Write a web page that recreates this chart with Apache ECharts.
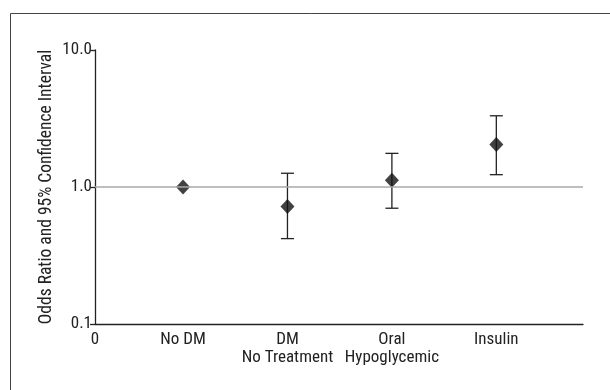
<!DOCTYPE html>
<html>
<head>
<meta charset="utf-8">
<script src="https://cdn.jsdelivr.net/npm/echarts@6/dist/echarts.min.js"></script>
<style>
html,body{margin:0;padding:0;background:#fff;}
#chart{width:610px;height:390px;}
</style>
</head>
<body>
<div id="chart"></div>
<script>
var categories = ["No DM", "DM\nNo Treatment", "Oral\nHypoglycemic", "Insulin"];
var oddsRatio = [1.0, 0.72, 1.12, 2.04];
var ciLower = [null, 0.42, 0.70, 1.23];
var ciUpper = [null, 1.26, 1.76, 3.31];
var yTicks = [0.1, 1.0, 10.0];
var xOriginLabel = "0";

var FONT = '"Liberation Sans Narrow", "Arial Narrow", "Roboto Condensed", sans-serif';
var X_MIN = 0.157, X_MAX = 4.83;

var points = oddsRatio.map(function (v, i) { return [i + 1, v]; });
var bars = [];
for (var i = 0; i < categories.length; i++) {
  if (ciLower[i] != null) bars.push([i + 1, ciLower[i], ciUpper[i]]);
}

var chart = echarts.init(document.getElementById('chart'), null, {renderer: 'canvas'});
chart.setOption({
  backgroundColor: '#fff',
  animation: false,
  graphic: [{
    type: 'rect', left: 8, top: 11, silent: true,
    shape: {width: 700, height: 500},
    style: {fill: 'none', stroke: '#444', lineWidth: 1}
  }],
  grid: {left: 95, right: 27, top: 50, bottom: 66},
  xAxis: {
    type: 'value', min: X_MIN, max: X_MAX,
    axisLine: {show: true, onZero: false, lineStyle: {color: '#222', width: 1.3}},
    axisTick: {show: false},
    splitLine: {show: false},
    axisLabel: {
      customValues: [X_MIN, 1, 2, 3, 4],
      color: '#222', fontFamily: FONT, fontSize: 17, lineHeight: 18, margin: 7,
      formatter: function (v) {
        if (Math.abs(v - X_MIN) < 1e-6) return xOriginLabel;
        var idx = Math.round(v) - 1;
        return categories[idx] || '';
      }
    }
  },
  yAxis: {
    type: 'log', logBase: 10, min: 0.1, max: 10,
    name: 'Odds Ratio and 95% Confidence Interval',
    nameLocation: 'middle', nameGap: 39, nameMoveOverlap: false,
    nameTextStyle: {color: '#222', fontFamily: FONT, fontSize: 17.5},
    axisLine: {show: true, lineStyle: {color: '#222', width: 1.3}},
    axisTick: {show: true, length: 5, lineStyle: {color: '#222', width: 1.3}},
    splitLine: {show: false},
    axisLabel: {
      color: '#222', fontFamily: FONT, fontSize: 17, margin: 3,
      customValues: yTicks,
      formatter: function (v) { return Number(v).toFixed(1); }
    }
  },
  series: [
    {
      type: 'custom',
      data: bars,
      z: 2,
      renderItem: function (params, api) {
        var x = api.value(0);
        var lo = api.coord([x, api.value(1)]);
        var hi = api.coord([x, api.value(2)]);
        var hw = 6.5;
        var st = {stroke: '#222', lineWidth: 1.3};
        return {
          type: 'group',
          children: [
            {type: 'line', shape: {x1: lo[0], y1: lo[1], x2: hi[0], y2: hi[1]}, style: st},
            {type: 'line', shape: {x1: lo[0] - hw, y1: lo[1], x2: lo[0] + hw, y2: lo[1]}, style: st},
            {type: 'line', shape: {x1: hi[0] - hw, y1: hi[1], x2: hi[0] + hw, y2: hi[1]}, style: st}
          ]
        };
      }
    },
    {
      type: 'scatter',
      data: points,
      symbol: 'diamond',
      symbolSize: [14, 15],
      z: 3,
      itemStyle: {color: '#111'},
      markLine: {
        silent: true, symbol: 'none', label: {show: false},
        lineStyle: {color: '#a8a8a8', width: 1.5, type: 'solid'},
        data: [{yAxis: 1}]
      }
    }
  ]
});
</script>
</body>
</html>
